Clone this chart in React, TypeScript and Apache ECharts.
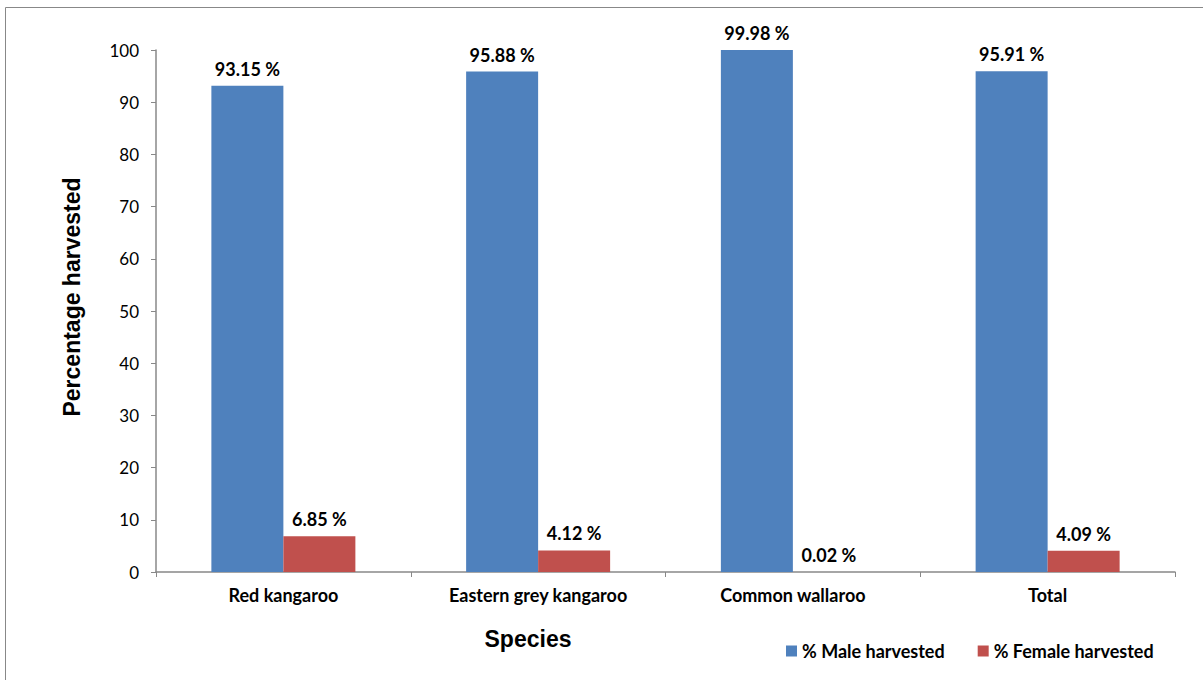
import React, { useEffect, useRef } from "react";
import * as echarts from "echarts";

const species = ["Red kangaroo", "Eastern grey kangaroo", "Common wallaroo", "Total"];
const maleHarvested = [93.15, 95.88, 99.98, 95.91];
const femaleHarvested = [6.85, 4.12, 0.02, 4.09];
const seriesNames = ["% Male harvested", "% Female harvested"];

const labelFont = "Lato, 'Open Sans', sans-serif";
const titleFont = "'Liberation Sans', Arial, sans-serif";

export default function App() {
  const ref = useRef<HTMLDivElement>(null);

  useEffect(() => {
    document.body.style.margin = "0";
    const chart = echarts.init(ref.current!, null, { renderer: "svg" });
    const barLabel = {
      show: true,
      position: "top" as const,
      distance: 8,
      fontFamily: labelFont,
      fontWeight: "bold" as const,
      fontSize: 18,
      color: "#000",
      formatter: (p: any) => `${Number(p.value).toFixed(2)} %`,
    };
    chart.setOption({
      animation: false,
      backgroundColor: "#fff",
      grid: { left: 156, right: 28, top: 50, bottom: 108 },
      legend: {
        left: 781,
        top: 637,
        itemWidth: 11,
        itemHeight: 11,
        itemGap: 33,
        icon: "rect",
        textStyle: { fontFamily: labelFont, fontWeight: "bold", fontSize: 18, color: "#000" },
        data: seriesNames,
      },
      xAxis: {
        type: "category",
        data: species,
        axisLine: { lineStyle: { color: "#888", width: 1.5 } },
        axisTick: { show: true, length: 5, lineStyle: { color: "#888" } },
        axisLabel: { fontFamily: labelFont, fontWeight: "bold", fontSize: 18, color: "#000", margin: 14 },
      },
      yAxis: {
        type: "value",
        min: 0,
        max: 100,
        interval: 10,
        splitLine: { show: false },
        axisLine: { show: true, lineStyle: { color: "#888", width: 1.5 } },
        axisTick: { show: true, length: 5, lineStyle: { color: "#888" } },
        axisLabel: { fontFamily: labelFont, fontSize: 17, color: "#000", margin: 17 },
      },
      series: [
        {
          name: seriesNames[0],
          type: "bar",
          data: maleHarvested,
          barWidth: 72,
          barGap: "0%",
          itemStyle: { color: "#4F81BD" },
          label: barLabel,
        },
        {
          name: seriesNames[1],
          type: "bar",
          data: femaleHarvested,
          barWidth: 72,
          barGap: "0%",
          itemStyle: { color: "#C0504D" },
          label: barLabel,
        },
      ],
      graphic: [
        {
          type: "rect",
          shape: { x: 5.5, y: 7.5, width: 1220, height: 700 },
          style: { fill: "none", stroke: "#888", lineWidth: 1 },
          silent: true,
        },
        {
          type: "text",
          x: 528,
          y: 639,
          style: {
            text: "Species",
            font: `bold 23px ${titleFont}`,
            fill: "#000",
            align: "center",
            verticalAlign: "middle",
          },
        },
        {
          type: "text",
          x: 72,
          y: 297,
          rotation: Math.PI / 2,
          style: {
            text: "Percentage harvested",
            font: `bold 23px ${titleFont}`,
            fill: "#000",
            align: "center",
            verticalAlign: "middle",
          },
        },
      ],
    });
    return () => chart.dispose();
  }, []);

  return <div ref={ref} style={{ width: 1203, height: 680 }} />;
}
